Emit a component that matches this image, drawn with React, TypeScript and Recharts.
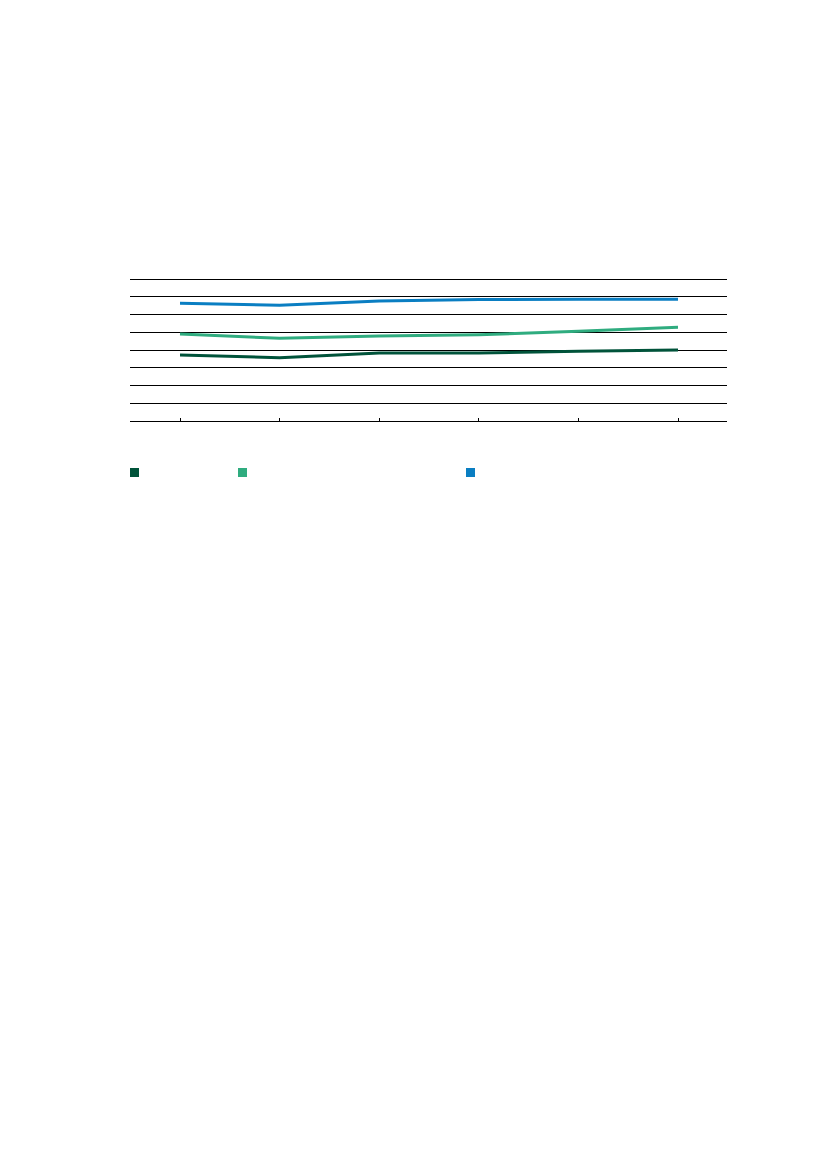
import React from "react";
import { LineChart, Line, XAxis, YAxis, CartesianGrid } from "recharts";

const categories = ["1", "2", "3", "4", "5", "6"];
const seriesDark = [3.72, 3.57, 3.83, 3.83, 3.93, 4.0];
const seriesTeal = [4.9, 4.66, 4.79, 4.86, 5.05, 5.28];
const seriesBlue = [6.63, 6.52, 6.76, 6.84, 6.86, 6.86];
const yTicks = [0, 1, 2, 3, 4, 5, 6, 7, 8];

const COLORS = { dark: "#00533a", teal: "#2fac7f", blue: "#0a7ec2" };

const data = categories.map((c, i) => ({
  cat: c,
  dark: seriesDark[i],
  teal: seriesTeal[i],
  blue: seriesBlue[i],
}));

const legendItems = [
  { key: "dark", color: COLORS.dark, width: 108 },
  { key: "teal", color: COLORS.teal, width: 228 },
  { key: "blue", color: COLORS.blue, width: 100 },
];

export default function App() {
  return (
    <div style={{ position: "relative", margin: "-8px 0 0 -8px", width: 827, height: 1169, background: "#fff" }}>
      <div style={{ position: "absolute", left: 0, top: 0 }}>
        <LineChart
          width={827}
          height={460}
          data={data}
          margin={{ top: 279, left: 130, right: 100, bottom: 29 }}
        >
          <CartesianGrid vertical={false} stroke="#000" strokeWidth={1} shapeRendering="crispEdges" />
          <XAxis
            dataKey="cat"
            height={10}
            padding={{ left: 50, right: 49 }}
            axisLine={{ stroke: "#000", strokeWidth: 1, shapeRendering: "crispEdges" }}
            tickLine={{ stroke: "#000", strokeWidth: 1, shapeRendering: "crispEdges" }}
            tickSize={-3}
            tickFormatter={() => ""}
          />
          <YAxis hide domain={[0, 8]} ticks={yTicks} interval={0} width={0} />
          <Line type="linear" dataKey="dark" stroke={COLORS.dark} strokeWidth={3} dot={false} isAnimationActive={false} />
          <Line type="linear" dataKey="teal" stroke={COLORS.teal} strokeWidth={3} dot={false} isAnimationActive={false} />
          <Line type="linear" dataKey="blue" stroke={COLORS.blue} strokeWidth={3} dot={false} isAnimationActive={false} />
        </LineChart>
      </div>
      <div style={{ position: "absolute", left: 130, top: 468, display: "flex" }}>
        {legendItems.map((it) => (
          <div key={it.key} style={{ width: it.width, height: 9 }}>
            <div style={{ width: 9, height: 9, background: it.color }} />
          </div>
        ))}
      </div>
    </div>
  );
}
